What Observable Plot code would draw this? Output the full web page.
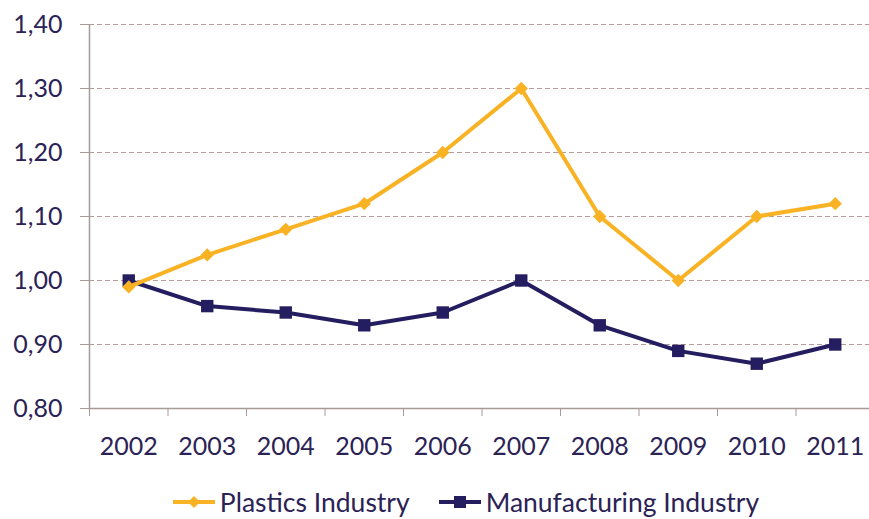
<!DOCTYPE html>
<html>
<head>
<meta charset="utf-8">
<script src="https://cdn.jsdelivr.net/npm/d3@7"></script>
<script src="https://cdn.jsdelivr.net/npm/@observablehq/plot@0.6"></script>
<style>
  html, body { margin: 0; padding: 0; background: #fff; overflow: hidden; }
  #chart { width: 869px; height: 470px; }
  .legend { display: flex; justify-content: center; align-items: center; height: 30px; line-height: 30px; margin-top: 17px; font-family: Lato, sans-serif; font-size: 26.5px; color: #2b2255; margin-left: 63px; }
  .legend .item { display: flex; align-items: center; margin: 0 14.5px; }
  .legend svg { margin-right: 5px; }
</style>
</head>
<body>
<div id="chart"></div>
<script>
const years = [2002, 2003, 2004, 2005, 2006, 2007, 2008, 2009, 2010, 2011];
const plastics = [0.99, 1.04, 1.08, 1.12, 1.20, 1.30, 1.10, 1.00, 1.10, 1.12];
const manufacturing = [1.00, 0.96, 0.95, 0.93, 0.95, 1.00, 0.93, 0.89, 0.87, 0.90];
const seriesNames = ["Plastics Industry", "Manufacturing Industry"];
const yTicks = [0.80, 0.90, 1.00, 1.10, 1.20, 1.30, 1.40];

const orange = "#f8b224";
const navy = "#241d60";
const textColor = "#2b2255";
const axisColor = "#a89a98";

const plasticsData = years.map((y, i) => ({year: y, value: plastics[i], series: seriesNames[0]}));
const manuData = years.map((y, i) => ({year: y, value: manufacturing[i], series: seriesNames[1]}));
const boundaries = years.map(y => y - 0.5).concat([years[years.length - 1] + 0.5]);
const fmt = d => d.toFixed(2).replace(".", ",");

const chart = Plot.plot({
  width: 869,
  height: 470,
  marginLeft: 89,
  marginRight: 0,
  marginTop: 24,
  marginBottom: 62,
  style: {fontFamily: "Lato, sans-serif", fontSize: "24px", color: textColor, background: "#fff", display: "block"},
  x: {domain: [2001.5, 2011.5], range: [89, 874]},
  y: {domain: [0.8, 1.4]},
  marks: [
    Plot.ruleY(yTicks.filter(d => d > 0.8), {stroke: "#b49c9c", strokeDasharray: "5,3", strokeWidth: 1.2}),
    Plot.axisY(yTicks, {tickSize: 9, tickPadding: 18, tickFormat: fmt, stroke: axisColor, fill: textColor, fontSize: 25, label: null}),
    Plot.axisX(boundaries, {tickSize: 8, tickFormat: () => "", stroke: axisColor, label: null}),
    Plot.axisX(years, {tickSize: 0, tickPadding: 29, tickFormat: d => String(d), fill: textColor, fontSize: 25, label: null}),
    Plot.ruleY([0.8], {stroke: axisColor, strokeWidth: 1.5}),
    Plot.ruleX([2001.5], {stroke: axisColor, strokeWidth: 1.5}),
    Plot.line(manuData, {x: "year", y: "value", stroke: navy, strokeWidth: 4}),
    Plot.dot(manuData, {x: "year", y: "value", symbol: "square", r: 7, fill: navy}),
    Plot.line(plasticsData, {x: "year", y: "value", stroke: orange, strokeWidth: 4}),
    Plot.dot(plasticsData, {x: "year", y: "value", symbol: "diamond2", r: 6, fill: orange})
  ]
});
document.getElementById("chart").appendChild(chart);

const legend = document.createElement("div");
legend.className = "legend";
const defs = [
  {name: seriesNames[0], color: orange, marker: '<path d="M21,4 L27,10 L21,16 L15,10 Z"/>'},
  {name: seriesNames[1], color: navy, marker: '<rect x="15" y="4" width="12" height="12"/>'}
];
defs.forEach(d => {
  const item = document.createElement("div");
  item.className = "item";
  item.innerHTML = `<svg width="42" height="20"><line x1="0" y1="10" x2="42" y2="10" stroke="${d.color}" stroke-width="4"/><g fill="${d.color}">${d.marker}</g></svg><span>${d.name}</span>`;
  legend.appendChild(item);
});
document.body.appendChild(legend);
</script>
</body>
</html>
